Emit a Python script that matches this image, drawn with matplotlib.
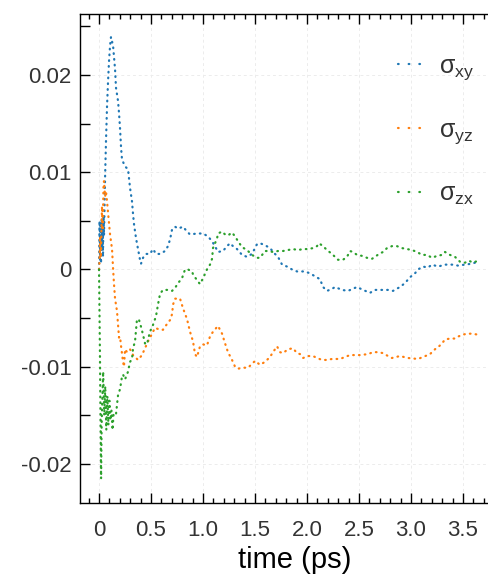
import numpy as np
import matplotlib.pyplot as plt
from matplotlib.lines import Line2D
from matplotlib.ticker import MultipleLocator

# stress tensor off-diagonal components vs time
t_xy = [0.0, 0.005, 0.010, 0.015, 0.019, 0.025, 0.029, 0.034, 0.038, 0.043, 0.048, 0.058,
        0.067, 0.077, 0.087, 0.096, 0.106, 0.115, 0.135, 0.154, 0.163, 0.183, 0.192,
        0.202, 0.212, 0.221, 0.250, 0.279, 0.298, 0.317, 0.327, 0.337, 0.356, 0.375,
        0.394, 0.404, 0.423, 0.452, 0.490, 0.519, 0.548, 0.587, 0.635, 0.663, 0.683,
        0.702, 0.731, 0.760, 0.808, 0.846, 0.875, 0.942, 1.000, 1.048, 1.087, 1.115,
        1.144, 1.192, 1.231, 1.260, 1.288, 1.327, 1.375, 1.423, 1.471, 1.519, 1.548,
        1.596, 1.644, 1.692, 1.721, 1.760, 1.808, 1.856, 1.904, 1.981, 2.029, 2.077,
        2.125, 2.154, 2.192, 2.240, 2.269, 2.337, 2.394, 2.481, 2.538, 2.606, 2.654,
        2.731, 2.779, 2.827, 2.894, 2.942, 2.990, 3.038, 3.067, 3.115, 3.163, 3.202,
        3.260, 3.327, 3.394, 3.452, 3.519, 3.587, 3.644]
s_xy = [0.0, 0.0050, 0.0010, 0.0045, 0.0006, 0.0052, 0.0020, 0.0048, 0.0013, 0.0055, 0.0035, 0.0094,
        0.0132, 0.0168, 0.0194, 0.0214, 0.0230, 0.0239, 0.0230, 0.0206, 0.0187, 0.0173, 0.0161,
        0.0145, 0.0125, 0.0113, 0.0106, 0.0103, 0.0084, 0.0070, 0.0057, 0.0046, 0.0032, 0.0021,
        0.0010, 0.0006, 0.0012, 0.0016, 0.0016, 0.0021, 0.0016, 0.0016, 0.0019, 0.0024, 0.0031,
        0.0041, 0.0044, 0.0042, 0.0044, 0.0039, 0.0036, 0.0037, 0.0037, 0.0034, 0.0029, 0.0024,
        0.0018, 0.0019, 0.0024, 0.0027, 0.0024, 0.0021, 0.0015, 0.0013, 0.0016, 0.0026, 0.0027,
        0.0025, 0.0022, 0.0016, 0.0013, 0.0005, 0.0003, 0.0000, -0.0002, -0.0002, -0.0004, -0.0007,
        -0.0010, -0.0018, -0.0022, -0.0020, -0.0018, -0.0021, -0.0022, -0.0018, -0.0021, -0.0024, -0.0021,
        -0.0021, -0.0021, -0.0022, -0.0018, -0.0014, -0.0008, -0.0004, 0.0000, 0.0003, 0.0002, 0.0005,
        0.0003, 0.0005, 0.0005, 0.0004, 0.0005, 0.0006, 0.0008]

t_yz = [0.0, 0.005, 0.010, 0.015, 0.019, 0.024, 0.029, 0.034, 0.038, 0.043, 0.048, 0.058,
        0.067, 0.077, 0.087, 0.106, 0.125, 0.135, 0.144, 0.154, 0.173, 0.183, 0.192,
        0.202, 0.212, 0.231, 0.240, 0.250, 0.269, 0.298, 0.327, 0.375, 0.413, 0.442,
        0.471, 0.510, 0.538, 0.587, 0.615, 0.654, 0.683, 0.702, 0.712, 0.731, 0.779,
        0.808, 0.846, 0.875, 0.904, 0.923, 0.942, 0.971, 1.000, 1.038, 1.067, 1.096,
        1.144, 1.183, 1.212, 1.240, 1.279, 1.308, 1.337, 1.385, 1.433, 1.471, 1.500,
        1.548, 1.596, 1.644, 1.673, 1.712, 1.740, 1.769, 1.817, 1.865, 1.904, 1.933,
        1.962, 2.010, 2.058, 2.096, 2.144, 2.192, 2.240, 2.317, 2.365, 2.413, 2.510,
        2.587, 2.635, 2.683, 2.731, 2.779, 2.817, 2.894, 2.971, 3.067, 3.115, 3.183,
        3.231, 3.260, 3.298, 3.327, 3.375, 3.423, 3.452, 3.500, 3.538, 3.587, 3.644]
s_yz = [0.0, 0.0010, 0.0034, 0.0012, 0.0019, 0.0045, 0.0065, 0.0040, 0.0055, 0.0086, 0.0091, 0.0075,
        0.0080, 0.0070, 0.0058, 0.0036, 0.0021, 0.0001, -0.0015, -0.0030, -0.0043, -0.0057, -0.0070,
        -0.0069, -0.0079, -0.0095, -0.0100, -0.0082, -0.0085, -0.0082, -0.0088, -0.0093, -0.0088, -0.0081,
        -0.0074, -0.0066, -0.0060, -0.0062, -0.0062, -0.0056, -0.0052, -0.0046, -0.0036, -0.0030, -0.0030,
        -0.0040, -0.0051, -0.0064, -0.0074, -0.0087, -0.0090, -0.0079, -0.0077, -0.0078, -0.0069, -0.0064,
        -0.0058, -0.0066, -0.0076, -0.0085, -0.0093, -0.0100, -0.0102, -0.0101, -0.0101, -0.0097, -0.0094,
        -0.0098, -0.0095, -0.0090, -0.0085, -0.0079, -0.0085, -0.0086, -0.0082, -0.0081, -0.0086, -0.0087,
        -0.0091, -0.0089, -0.0089, -0.0091, -0.0093, -0.0093, -0.0092, -0.0092, -0.0090, -0.0088, -0.0088,
        -0.0087, -0.0085, -0.0085, -0.0086, -0.0089, -0.0091, -0.0089, -0.0091, -0.0092, -0.0090, -0.0087,
        -0.0082, -0.0080, -0.0076, -0.0072, -0.0071, -0.0071, -0.0069, -0.0067, -0.0066, -0.0066, -0.0067]

t_zx = [0.0, 0.005, 0.010, 0.015, 0.020, 0.025, 0.030, 0.040, 0.050, 0.060, 0.070, 0.080,
        0.090, 0.100, 0.110, 0.120, 0.130, 0.140, 0.163, 0.183, 0.202, 0.221, 0.231,
        0.250, 0.279, 0.298, 0.317, 0.327, 0.346, 0.356, 0.365, 0.385, 0.404, 0.423,
        0.442, 0.462, 0.471, 0.490, 0.519, 0.548, 0.567, 0.587, 0.615, 0.663, 0.702,
        0.731, 0.760, 0.798, 0.827, 0.856, 0.894, 0.904, 0.942, 0.971, 1.000, 1.038,
        1.067, 1.087, 1.096, 1.135, 1.144, 1.183, 1.212, 1.240, 1.279, 1.308, 1.337,
        1.375, 1.423, 1.471, 1.519, 1.548, 1.596, 1.625, 1.673, 1.721, 1.769, 1.817,
        1.865, 1.913, 1.962, 2.010, 2.058, 2.096, 2.115, 2.154, 2.192, 2.240, 2.269,
        2.298, 2.346, 2.385, 2.413, 2.442, 2.481, 2.529, 2.577, 2.625, 2.654, 2.692,
        2.731, 2.769, 2.817, 2.865, 2.913, 2.962, 3.010, 3.058, 3.106, 3.154, 3.202,
        3.250, 3.298, 3.327, 3.375, 3.423, 3.471, 3.519, 3.558, 3.596, 3.644]
s_zx = [0.0, -0.0050, -0.0100, -0.0160, -0.0215, -0.0160, -0.0140, -0.0105, -0.0150, -0.0120, -0.0165, -0.0130,
        -0.0160, -0.0135, -0.0155, -0.0145, -0.0165, -0.0148, -0.0149, -0.0129, -0.0123, -0.0110, -0.0108,
        -0.0113, -0.0105, -0.0095, -0.0092, -0.0081, -0.0074, -0.0062, -0.0051, -0.0052, -0.0059, -0.0067,
        -0.0076, -0.0077, -0.0072, -0.0064, -0.0057, -0.0048, -0.0036, -0.0025, -0.0021, -0.0021, -0.0022,
        -0.0019, -0.0014, -0.0009, 0.0000, 0.0000, -0.0002, -0.0005, -0.0011, -0.0015, -0.0009, 0.0000,
        0.0005, 0.0011, 0.0022, 0.0032, 0.0037, 0.0039, 0.0036, 0.0035, 0.0038, 0.0034, 0.0029,
        0.0023, 0.0020, 0.0015, 0.0012, 0.0012, 0.0019, 0.0019, 0.0018, 0.0019, 0.0019, 0.0020,
        0.0021, 0.0020, 0.0021, 0.0021, 0.0022, 0.0024, 0.0027, 0.0024, 0.0020, 0.0016, 0.0013,
        0.0010, 0.0010, 0.0013, 0.0019, 0.0018, 0.0015, 0.0014, 0.0012, 0.0011, 0.0013, 0.0016,
        0.0018, 0.0022, 0.0024, 0.0024, 0.0022, 0.0021, 0.0020, 0.0018, 0.0015, 0.0015, 0.0012,
        0.0014, 0.0015, 0.0018, 0.0015, 0.0013, 0.0008, 0.0007, 0.0009, 0.0007, 0.0009]

labels = [r'$\mathregular{\sigma_{xy}}$', r'$\mathregular{\sigma_{yz}}$', r'$\mathregular{\sigma_{zx}}$']
colors = ['#1f77b4', '#ff7f0e', '#2ca02c']

xticks = [0, 0.5, 1.0, 1.5, 2.0, 2.5, 3.0, 3.5]
xticklabels = ['0', '0.5', '1.0', '1.5', '2.0', '2.5', '3.0', '3.5']
yticks = [-0.02, -0.01, 0, 0.01, 0.02]
yticklabels = ['-0.02', '-0.01', '0', '0.01', '0.02']

plt.rcParams['font.family'] = ['Liberation Sans', 'DejaVu Sans']
plt.rcParams['text.color'] = '#333333'
plt.rcParams['xtick.labelcolor'] = '#333333'
plt.rcParams['ytick.labelcolor'] = '#333333'

fig = plt.figure(figsize=(4.89, 5.75), dpi=100)
# the frame runs on past the right edge of the canvas
ax = fig.add_axes([80/489, 1 - 503/575, 430/489, (503 - 14)/575])

dotted = (0, (0.3, 2.3))
for t, s, c in zip([t_xy, t_yz, t_zx], [s_xy, s_yz, s_zx], colors):
    ax.plot(t, s, color=c, lw=1.6, ls=dotted, dash_capstyle='round')

ax.set_xlim(-0.183, 3.952)
ax.set_ylim(-0.02401, 0.02627)

ax.set_xticks(xticks)
ax.set_xticklabels(xticklabels)
ax.xaxis.set_minor_locator(MultipleLocator(0.1))
ax.set_yticks(yticks)
ax.set_yticklabels(yticklabels)
ax.yaxis.set_minor_locator(MultipleLocator(0.005))

ax.tick_params(which='both', direction='in', top=True, right=True, width=1.0, labelsize=16)
ax.tick_params(axis='x', which='major', length=7, pad=12)
ax.tick_params(axis='x', which='minor', length=3.5)
ax.tick_params(axis='y', which='both', length=7, pad=6)

ax.grid(True, which='major', color='#ececec', lw=0.7, ls=(0, (3, 3)))
for sp in ax.spines.values():
    sp.set_linewidth(1.0)

ax.set_xlabel('time (ps)', fontsize=21, labelpad=4)

handles = [Line2D([], [], color=c, lw=1.6, ls=(0, (0.3, 4.5)), dash_capstyle='round')
           for c in colors]
ax.legend(handles, labels, loc='upper right', frameon=False, fontsize=18,
          handlelength=1.2, handletextpad=0.45, labelspacing=1.45,
          borderaxespad=0.0, bbox_to_anchor=(0.94, 0.94))

plt.savefig('out.png', dpi=100)
